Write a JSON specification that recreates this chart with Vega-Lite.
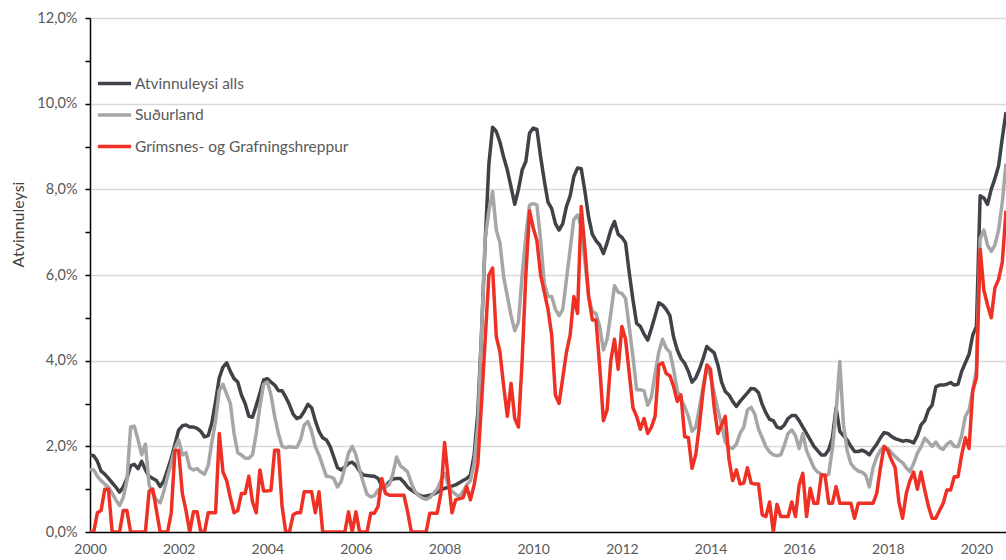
{
  "$schema": "https://vega.github.io/schema/vega-lite/v6.json",
  "width": 916,
  "height": 514,
  "autosize": "none",
  "padding": {"left": 90, "top": 18, "right": 0, "bottom": 28},
  "background": "white",
  "config": {
    "view": {"stroke": null},
    "font": "Lato",
    "axis": {"labelFont": "Lato", "titleFont": "Lato"},
    "legend": {"labelFont": "Lato"}
  },
  "data": {
    "values": [
      {"i":0,"a":1.80,"s":1.46,"g":0},{"i":1,"a":1.78,"s":1.45,"g":0},{"i":2,"a":1.65,"s":1.30,"g":0.45},{"i":3,"a":1.42,"s":1.20,"g":0.5},
      {"i":4,"a":1.35,"s":1.12,"g":1.0},{"i":5,"a":1.25,"s":1.05,"g":1.0},{"i":6,"a":1.15,"s":0.90,"g":0},{"i":7,"a":1.05,"s":0.75,"g":0},
      {"i":8,"a":0.93,"s":0.62,"g":0},{"i":9,"a":1.05,"s":0.80,"g":0.5},{"i":10,"a":1.25,"s":1.20,"g":0.5},{"i":11,"a":1.55,"s":2.45,"g":0},
      {"i":12,"a":1.58,"s":2.47,"g":0},{"i":13,"a":1.48,"s":2.15,"g":0},{"i":14,"a":1.65,"s":1.80,"g":0},{"i":15,"a":1.45,"s":2.05,"g":0},
      {"i":16,"a":1.30,"s":1.10,"g":0.95},{"i":17,"a":1.25,"s":0.90,"g":1.0},{"i":18,"a":1.20,"s":0.75,"g":0.5},{"i":19,"a":1.06,"s":0.68,"g":0},
      {"i":20,"a":1.20,"s":0.95,"g":0},{"i":21,"a":1.45,"s":1.30,"g":0},{"i":22,"a":1.72,"s":1.60,"g":0.45},{"i":23,"a":2.05,"s":1.95,"g":1.9},
      {"i":24,"a":2.38,"s":2.15,"g":1.9},{"i":25,"a":2.48,"s":1.80,"g":0.9},{"i":26,"a":2.50,"s":1.85,"g":0.5},{"i":27,"a":2.45,"s":1.50,"g":0},
      {"i":28,"a":2.45,"s":1.45,"g":0.47},{"i":29,"a":2.42,"s":1.48,"g":0.47},{"i":30,"a":2.35,"s":1.40,"g":0},{"i":31,"a":2.22,"s":1.35,"g":0},
      {"i":32,"a":2.25,"s":1.55,"g":0.45},{"i":33,"a":2.55,"s":2.10,"g":0.45},{"i":34,"a":3.05,"s":2.60,"g":0.45},{"i":35,"a":3.60,"s":3.30,"g":2.3},
      {"i":36,"a":3.85,"s":3.45,"g":1.4},{"i":37,"a":3.95,"s":3.22,"g":1.2},{"i":38,"a":3.75,"s":3.0,"g":0.8},{"i":39,"a":3.58,"s":2.3,"g":0.45},
      {"i":40,"a":3.5,"s":1.85,"g":0.5},{"i":41,"a":3.2,"s":1.8,"g":0.9},{"i":42,"a":3.0,"s":1.72,"g":0.9},{"i":43,"a":2.7,"s":1.72,"g":1.3},
      {"i":44,"a":2.68,"s":1.8,"g":0.7},{"i":45,"a":2.95,"s":2.3,"g":0.45},{"i":46,"a":3.24,"s":2.93,"g":1.45},{"i":47,"a":3.55,"s":3.45,"g":0.96},
      {"i":48,"a":3.58,"s":3.5,"g":0.96},{"i":49,"a":3.5,"s":3.2,"g":0.97},{"i":50,"a":3.43,"s":2.7,"g":1.91},{"i":51,"a":3.3,"s":2.3,"g":1.91},
      {"i":52,"a":3.3,"s":2.0,"g":0.6},{"i":53,"a":3.15,"s":1.97,"g":0},{"i":54,"a":2.97,"s":1.99,"g":0},{"i":55,"a":2.75,"s":1.98,"g":0.4},
      {"i":56,"a":2.65,"s":1.98,"g":0.45},{"i":57,"a":2.68,"s":2.15,"g":0.45},{"i":58,"a":2.82,"s":2.5,"g":0.94},{"i":59,"a":2.98,"s":2.58,"g":0.94},
      {"i":60,"a":2.9,"s":2.35,"g":0.94},{"i":61,"a":2.6,"s":1.99,"g":0.45},{"i":62,"a":2.35,"s":1.8,"g":0.94},{"i":63,"a":2.2,"s":1.55,"g":0},
      {"i":64,"a":2.15,"s":1.3,"g":0},{"i":65,"a":2.0,"s":1.29,"g":0},{"i":66,"a":1.75,"s":1.25,"g":0},{"i":67,"a":1.5,"s":1.05,"g":0},
      {"i":68,"a":1.45,"s":1.18,"g":0},{"i":69,"a":1.52,"s":1.5,"g":0},{"i":70,"a":1.6,"s":1.84,"g":0.47},{"i":71,"a":1.63,"s":2.0,"g":0},
      {"i":72,"a":1.55,"s":1.8,"g":0.47},{"i":73,"a":1.42,"s":1.45,"g":0},{"i":74,"a":1.33,"s":1.15,"g":0},{"i":75,"a":1.32,"s":0.88,"g":0},
      {"i":76,"a":1.31,"s":0.82,"g":0.44},{"i":77,"a":1.3,"s":0.85,"g":0.44},{"i":78,"a":1.25,"s":0.98,"g":0.6},{"i":79,"a":1.08,"s":1.0,"g":1.25},
      {"i":80,"a":1.06,"s":1.06,"g":0.9},{"i":81,"a":1.17,"s":1.1,"g":0.86},{"i":82,"a":1.24,"s":1.35,"g":0.86},{"i":83,"a":1.25,"s":1.75,"g":0.86},
      {"i":84,"a":1.25,"s":1.55,"g":0.86},{"i":85,"a":1.16,"s":1.48,"g":0.86},{"i":86,"a":1.05,"s":1.4,"g":0.47},{"i":87,"a":0.98,"s":1.14,"g":0},
      {"i":88,"a":0.92,"s":0.95,"g":0},{"i":89,"a":0.87,"s":0.85,"g":0},{"i":90,"a":0.83,"s":0.79,"g":0},{"i":91,"a":0.84,"s":0.76,"g":0},
      {"i":92,"a":0.86,"s":0.8,"g":0.44},{"i":93,"a":0.88,"s":0.9,"g":0.44},{"i":94,"a":0.93,"s":1.0,"g":0.44},{"i":95,"a":0.98,"s":1.2,"g":0.9},
      {"i":96,"a":1.02,"s":1.37,"g":2.09},{"i":97,"a":1.04,"s":1.1,"g":1.25},{"i":98,"a":1.07,"s":0.95,"g":0.45},{"i":99,"a":1.1,"s":0.88,"g":0.75},
      {"i":100,"a":1.15,"s":0.82,"g":0.78},{"i":101,"a":1.2,"s":0.95,"g":0.8},{"i":102,"a":1.25,"s":1.1,"g":1.06},{"i":103,"a":1.33,"s":1.2,"g":0.75},
      {"i":104,"a":1.8,"s":1.6,"g":1.1},{"i":105,"a":2.8,"s":2.5,"g":1.6},{"i":106,"a":4.64,"s":4.64,"g":3.0},{"i":107,"a":6.8,"s":6.85,"g":4.5},
      {"i":108,"a":8.6,"s":7.5,"g":6.0},{"i":109,"a":9.45,"s":7.95,"g":6.16},{"i":110,"a":9.35,"s":7.05,"g":4.56},{"i":111,"a":9.1,"s":6.75,"g":4.2},
      {"i":112,"a":8.75,"s":5.95,"g":3.4},{"i":113,"a":8.45,"s":5.5,"g":2.7},{"i":114,"a":8.05,"s":5.05,"g":3.47},{"i":115,"a":7.65,"s":4.7,"g":2.65},
      {"i":116,"a":8.0,"s":4.9,"g":2.45},{"i":117,"a":8.45,"s":6.0,"g":4.0},{"i":118,"a":8.65,"s":6.9,"g":6.0},{"i":119,"a":9.31,"s":7.63,"g":7.5},
      {"i":120,"a":9.43,"s":7.67,"g":7.1},{"i":121,"a":9.4,"s":7.63,"g":6.8},{"i":122,"a":8.76,"s":6.82,"g":6.0},{"i":123,"a":8.2,"s":5.8,"g":5.6},
      {"i":124,"a":7.7,"s":5.5,"g":5.2},{"i":125,"a":7.55,"s":5.5,"g":4.6},{"i":126,"a":7.2,"s":5.2,"g":3.2},{"i":127,"a":7.05,"s":5.05,"g":3.0},
      {"i":128,"a":7.2,"s":5.2,"g":3.6},{"i":129,"a":7.6,"s":5.9,"g":4.2},{"i":130,"a":7.85,"s":6.6,"g":4.6},{"i":131,"a":8.3,"s":7.3,"g":5.5},
      {"i":132,"a":8.5,"s":7.4,"g":5.1},{"i":133,"a":8.48,"s":7.13,"g":7.6},{"i":134,"a":7.95,"s":6.3,"g":6.6},{"i":135,"a":7.35,"s":5.5,"g":5.5},
      {"i":136,"a":6.95,"s":5.15,"g":4.95},{"i":137,"a":6.8,"s":5.1,"g":4.95},{"i":138,"a":6.7,"s":4.8,"g":3.86},{"i":139,"a":6.5,"s":4.25,"g":2.6},
      {"i":140,"a":6.75,"s":4.5,"g":2.85},{"i":141,"a":7.05,"s":5.1,"g":4.0},{"i":142,"a":7.25,"s":5.75,"g":4.5},{"i":143,"a":6.95,"s":5.6,"g":3.8},
      {"i":144,"a":6.88,"s":5.57,"g":4.8},{"i":145,"a":6.75,"s":5.45,"g":4.5},{"i":146,"a":6.05,"s":4.78,"g":3.7},{"i":147,"a":5.42,"s":4.09,"g":2.9},
      {"i":148,"a":4.87,"s":3.32,"g":2.7},{"i":149,"a":4.8,"s":3.32,"g":2.4},{"i":150,"a":4.62,"s":3.3,"g":2.65},{"i":151,"a":4.48,"s":2.96,"g":2.3},
      {"i":152,"a":4.75,"s":3.15,"g":2.45},{"i":153,"a":5.05,"s":3.7,"g":2.7},{"i":154,"a":5.35,"s":4.2,"g":3.9},{"i":155,"a":5.3,"s":4.5,"g":3.95},
      {"i":156,"a":5.2,"s":4.29,"g":3.7},{"i":157,"a":5.05,"s":4.2,"g":3.65},{"i":158,"a":4.55,"s":3.8,"g":3.4},{"i":159,"a":4.25,"s":3.3,"g":3.05},
      {"i":160,"a":4.05,"s":3.1,"g":3.2},{"i":161,"a":3.94,"s":2.93,"g":2.23},{"i":162,"a":3.75,"s":2.7,"g":2.2},{"i":163,"a":3.5,"s":2.35,"g":1.49},
      {"i":164,"a":3.6,"s":2.45,"g":1.8},{"i":165,"a":3.8,"s":2.9,"g":2.5},{"i":166,"a":4.05,"s":3.4,"g":3.3},{"i":167,"a":4.33,"s":3.85,"g":3.9},
      {"i":168,"a":4.25,"s":3.65,"g":3.8},{"i":169,"a":4.18,"s":3.25,"g":2.9},{"i":170,"a":3.9,"s":2.85,"g":2.3},{"i":171,"a":3.5,"s":2.5,"g":2.5},
      {"i":172,"a":3.28,"s":2.1,"g":2.7},{"i":173,"a":3.2,"s":1.98,"g":1.7},{"i":174,"a":3.05,"s":1.95,"g":1.2},{"i":175,"a":2.93,"s":2.05,"g":1.45},
      {"i":176,"a":3.05,"s":2.3,"g":1.12},{"i":177,"a":3.15,"s":2.45,"g":1.14},{"i":178,"a":3.25,"s":2.85,"g":1.5},{"i":179,"a":3.35,"s":2.91,"g":1.14},
      {"i":180,"a":3.34,"s":2.75,"g":1.12},{"i":181,"a":3.25,"s":2.4,"g":1.12},{"i":182,"a":2.98,"s":2.2,"g":0.4},{"i":183,"a":2.78,"s":1.99,"g":0.36},
      {"i":184,"a":2.63,"s":1.87,"g":0.7},{"i":185,"a":2.6,"s":1.8,"g":0},{"i":186,"a":2.45,"s":1.78,"g":0.65},{"i":187,"a":2.42,"s":1.8,"g":0.36},
      {"i":188,"a":2.5,"s":2.03,"g":0.36},{"i":189,"a":2.65,"s":2.3,"g":0.36},{"i":190,"a":2.72,"s":2.38,"g":0.7},{"i":191,"a":2.72,"s":2.25,"g":0.36},
      {"i":192,"a":2.6,"s":1.95,"g":1.1},{"i":193,"a":2.45,"s":2.3,"g":1.37},{"i":194,"a":2.3,"s":1.9,"g":0.36},{"i":195,"a":2.15,"s":1.7,"g":1.02},
      {"i":196,"a":2.0,"s":1.5,"g":0.67},{"i":197,"a":1.9,"s":1.4,"g":0.67},{"i":198,"a":1.8,"s":1.35,"g":1.33},{"i":199,"a":1.8,"s":1.3,"g":1.33},
      {"i":200,"a":1.92,"s":1.35,"g":0.67},{"i":201,"a":2.2,"s":1.95,"g":0.67},{"i":202,"a":2.9,"s":2.8,"g":1.06},{"i":203,"a":2.35,"s":3.98,"g":0.67},
      {"i":204,"a":2.25,"s":2.5,"g":0.67},{"i":205,"a":2.15,"s":1.9,"g":0.67},{"i":206,"a":2.0,"s":1.6,"g":0.67},{"i":207,"a":1.88,"s":1.49,"g":0.32},
      {"i":208,"a":1.88,"s":1.42,"g":0.67},{"i":209,"a":1.91,"s":1.4,"g":0.67},{"i":210,"a":1.87,"s":1.33,"g":0.67},{"i":211,"a":1.8,"s":1.05,"g":0.67},
      {"i":212,"a":1.93,"s":1.5,"g":0.67},{"i":213,"a":2.05,"s":1.75,"g":0.9},{"i":214,"a":2.2,"s":1.91,"g":1.5},{"i":215,"a":2.32,"s":1.99,"g":2.0},
      {"i":216,"a":2.3,"s":1.95,"g":1.9},{"i":217,"a":2.23,"s":1.85,"g":1.68},{"i":218,"a":2.18,"s":1.76,"g":1.5},{"i":219,"a":2.15,"s":1.68,"g":0.7},
      {"i":220,"a":2.12,"s":1.62,"g":0.32},{"i":221,"a":2.14,"s":1.5,"g":0.9},{"i":222,"a":2.12,"s":1.41,"g":1.2},{"i":223,"a":2.08,"s":1.6,"g":1.4},
      {"i":224,"a":2.25,"s":1.84,"g":1.0},{"i":225,"a":2.5,"s":1.99,"g":1.4},{"i":226,"a":2.6,"s":2.19,"g":0.98},{"i":227,"a":2.85,"s":2.1,"g":0.6},
      {"i":228,"a":2.96,"s":2.0,"g":0.32},{"i":229,"a":3.39,"s":2.1,"g":0.32},{"i":230,"a":3.43,"s":1.97,"g":0.5},{"i":231,"a":3.43,"s":1.93,"g":0.67},
      {"i":232,"a":3.45,"s":2.05,"g":0.98},{"i":233,"a":3.49,"s":2.11,"g":0.98},{"i":234,"a":3.43,"s":2.0,"g":1.29},{"i":235,"a":3.45,"s":1.99,"g":1.29},
      {"i":236,"a":3.75,"s":2.25,"g":1.8},{"i":237,"a":3.95,"s":2.7,"g":2.2},{"i":238,"a":4.15,"s":2.85,"g":1.95},{"i":239,"a":4.6,"s":3.3,"g":3.3},
      {"i":240,"a":4.8,"s":3.8,"g":3.6},{"i":241,"a":7.85,"s":6.85,"g":6.6},{"i":242,"a":7.8,"s":7.05,"g":5.65},{"i":243,"a":7.65,"s":6.7,"g":5.3},
      {"i":244,"a":8.0,"s":6.55,"g":5.0},{"i":245,"a":8.25,"s":6.7,"g":5.7},{"i":246,"a":8.55,"s":7.05,"g":5.9},{"i":247,"a":9.2,"s":7.7,"g":6.3},
      {"i":248,"a":9.8,"s":8.6,"g":7.5}
    ]
  },
  "transform": [{"fold": ["a", "s", "g"], "as": ["k", "v"]}],
  "mark": {"type": "line", "strokeJoin": "round", "clip": true},
  "encoding": {
    "x": {
      "field": "i", "type": "quantitative",
      "scale": {"domain": [0, 248], "nice": false, "zero": false},
      "axis": {
        "title": null,
        "values": [0, 24, 48, 72, 96, 120, 144, 168, 192, 216, 240],
        "labelExpr": "'' + (2000 + datum.value / 12)",
        "grid": false, "ticks": false,
        "domainColor": "#000000", "domainWidth": 1.5,
        "labelColor": "#595959", "labelFontSize": 14, "labelPadding": 10,
        "labelFlush": false
      }
    },
    "y": {
      "field": "v", "type": "quantitative",
      "scale": {"domain": [0, 12], "nice": false},
      "axis": {
        "title": "Atvinnuleysi",
        "titleColor": "#404040", "titleFontSize": 16, "titleFontWeight": "normal", "titlePadding": 10,
        "titleY": 206,
        "values": [0, 1, 2, 3, 4, 5, 6, 7, 8, 9, 10, 11, 12],
        "labelExpr": "datum.value % 2 == 0 ? replace(format(datum.value, '.1f'), '.', ',') + '%' : ''",
        "labelColor": "#595959", "labelFontSize": 14.5, "labelPadding": 8,
        "domainColor": "#000000", "domainWidth": 1.5,
        "tickColor": "#000000", "tickSize": 5, "tickWidth": 1.5,
        "grid": true,
        "gridColor": "#d9d9d9", "gridWidth": 1.5,
        "gridOpacity": {"condition": {"test": "datum.value % 2 == 0 && datum.value > 0", "value": 1}, "value": 0}
      }
    },
    "color": {
      "field": "k", "type": "nominal",
      "scale": {"domain": ["a", "s", "g"], "range": ["#3f4348", "#a6a6a6", "#ee3124"]},
      "legend": {
        "title": null,
        "orient": "none", "legendX": 6, "legendY": 47,
        "symbolType": "stroke", "symbolStrokeWidth": 4, "symbolSize": 1100,
        "labelExpr": "datum.label == 'a' ? 'Atvinnuleysi alls' : datum.label == 's' ? 'Suðurland' : 'Grímsnes- og Grafningshreppur'",
        "labelColor": "#595959", "labelFontSize": 15.5, "labelOffset": 2, "labelLimit": 0,
        "rowPadding": 4.5
      }
    },
    "strokeWidth": {
      "field": "k", "type": "nominal",
      "scale": {"domain": ["a", "s", "g"], "range": [3.5, 3.5, 3]},
      "legend": null
    }
  }
}
